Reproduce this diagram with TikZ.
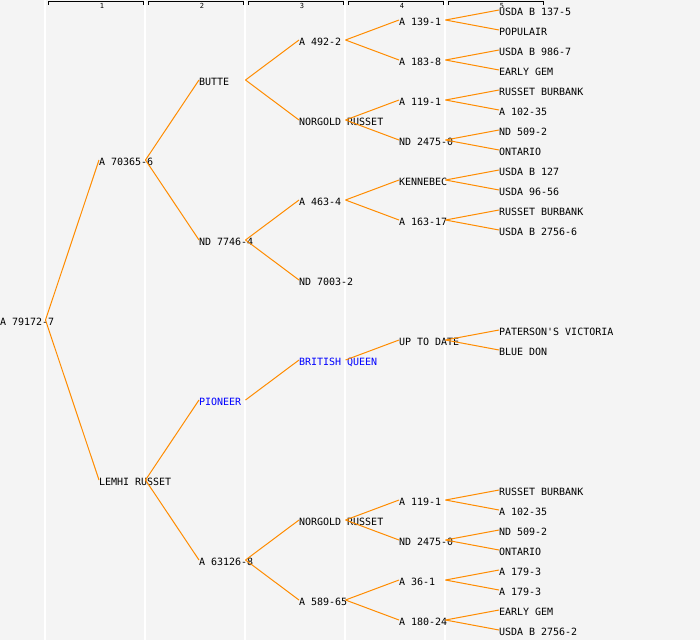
\documentclass[tikz,border=0pt]{standalone}
\usepackage{fontspec}
\setmonofont{DejaVu Sans Mono}
\definecolor{bgc}{HTML}{F4F4F4}
\definecolor{conncol}{RGB}{255,140,0}
\definecolor{bluetxt}{RGB}{0,0,255}
\begin{document}
\begin{tikzpicture}[x=1pt,y=-1pt,
  lbl/.style={anchor=west,inner sep=0pt,outer sep=0pt,font=\ttfamily\fontsize{10}{10}\selectfont,text height=7.3pt,text depth=0pt,text=black},
  bl/.style={lbl,text=bluetxt},
  conn/.style={draw=conncol,line width=1pt},
  colline/.style={draw=white,line width=1.3pt},
  brk/.style={draw=black,line width=0.9pt},
  hdr/.style={inner sep=0pt,font=\ttfamily\fontsize{7}{7}\selectfont}]
\fill[bgc] (0,0) rectangle (700,640);
\useasboundingbox (0,0) rectangle (700,640);
% column lines
\foreach \x in {45,145,245,345,445} \draw[colline] (\x,0) -- (\x,640);
% header brackets
\foreach \k in {1,...,5} {
  \draw[brk] ({48+100*(\k-1)},4.5) -- ({48+100*(\k-1)},1.5) -- ({143+100*(\k-1)},1.5) -- ({143+100*(\k-1)},4.5);
  \node[hdr] (h\k) at ({102+100*(\k-1)},6) {\k};
}
% column 0
\node[lbl] (r) at (0,322) {A 79172-7};
% column 1
\node[lbl] (a) at (99,162) {A 70365-6};
\node[lbl] (b) at (99,482) {LEMHI RUSSET};
% column 2
\node[lbl] (a1) at (199,82) {BUTTE};
\node[lbl] (a2) at (199,242) {ND 7746-4};
\node[bl] (b1) at (199,402) {PIONEER};
\node[lbl] (b2) at (199,562) {A 63126-8};
% column 3
\node[lbl] (a11) at (299,42) {A 492-2};
\node[lbl] (a12) at (299,122) {NORGOLD RUSSET};
\node[lbl] (a21) at (299,202) {A 463-4};
\node[lbl] (a22) at (299,282) {ND 7003-2};
\node[bl] (b11) at (299,362) {BRITISH QUEEN};
\node[lbl] (b21) at (299,522) {NORGOLD RUSSET};
\node[lbl] (b22) at (299,602) {A 589-65};
% column 4
\node[lbl] (a111) at (399,22) {A 139-1};
\node[lbl] (a112) at (399,62) {A 183-8};
\node[lbl] (a121) at (399,102) {A 119-1};
\node[lbl] (a122) at (399,142) {ND 2475-0};
\node[lbl] (a211) at (399,182) {KENNEBEC};
\node[lbl] (a212) at (399,222) {A 163-17};
\node[lbl] (b111) at (399,342) {UP TO DATE};
\node[lbl] (b211) at (399,502) {A 119-1};
\node[lbl] (b212) at (399,542) {ND 2475-0};
\node[lbl] (b221) at (399,582) {A 36-1};
\node[lbl] (b222) at (399,622) {A 180-24};
% column 5
\node[lbl] (l1) at (499,12) {USDA B 137-5};
\node[lbl] (l2) at (499,32) {POPULAIR};
\node[lbl] (l3) at (499,52) {USDA B 986-7};
\node[lbl] (l4) at (499,72) {EARLY GEM};
\node[lbl] (l5) at (499,92) {RUSSET BURBANK};
\node[lbl] (l6) at (499,112) {A 102-35};
\node[lbl] (l7) at (499,132) {ND 509-2};
\node[lbl] (l8) at (499,152) {ONTARIO};
\node[lbl] (l9) at (499,172) {USDA B 127};
\node[lbl] (l10) at (499,192) {USDA 96-56};
\node[lbl] (l11) at (499,212) {RUSSET BURBANK};
\node[lbl] (l12) at (499,232) {USDA B 2756-6};
\node[lbl] (l13) at (499,332) {PATERSON'S VICTORIA};
\node[lbl] (l14) at (499,352) {BLUE DON};
\node[lbl] (l15) at (499,492) {RUSSET BURBANK};
\node[lbl] (l16) at (499,512) {A 102-35};
\node[lbl] (l17) at (499,532) {ND 509-2};
\node[lbl] (l18) at (499,552) {ONTARIO};
\node[lbl] (l19) at (499,572) {A 179-3};
\node[lbl] (l20) at (499,592) {A 179-3};
\node[lbl] (l21) at (499,612) {EARLY GEM};
\node[lbl] (l22) at (499,632) {USDA B 2756-2};
% outgoing points of parents
\coordinate (r-o) at (45.5,320);
\coordinate (a-o) at (145.5,160);
\coordinate (b-o) at (145.5,480);
\coordinate (a1-o) at (245.5,80);
\coordinate (a2-o) at (245.5,240);
\coordinate (b1-o) at (245.5,400);
\coordinate (b2-o) at (245.5,560);
\coordinate (a11-o) at (345.5,40);
\coordinate (a12-o) at (345.5,120);
\coordinate (a21-o) at (345.5,200);
\coordinate (b11-o) at (345.5,360);
\coordinate (b21-o) at (345.5,520);
\coordinate (b22-o) at (345.5,600);
\coordinate (a111-o) at (445.5,20);
\coordinate (a112-o) at (445.5,60);
\coordinate (a121-o) at (445.5,100);
\coordinate (a122-o) at (445.5,140);
\coordinate (a211-o) at (445.5,180);
\coordinate (a212-o) at (445.5,220);
\coordinate (b111-o) at (445.5,340);
\coordinate (b211-o) at (445.5,500);
\coordinate (b212-o) at (445.5,540);
\coordinate (b221-o) at (445.5,580);
\coordinate (b222-o) at (445.5,620);
% connectors
\foreach \p/\c in {r/a,r/b,a/a1,a/a2,b/b1,b/b2,
  a1/a11,a1/a12,a2/a21,a2/a22,b1/b11,b2/b21,b2/b22,
  a11/a111,a11/a112,a12/a121,a12/a122,a21/a211,a21/a212,b11/b111,
  b21/b211,b21/b212,b22/b221,b22/b222,
  a111/l1,a111/l2,a112/l3,a112/l4,a121/l5,a121/l6,a122/l7,a122/l8,
  a211/l9,a211/l10,a212/l11,a212/l12,b111/l13,b111/l14,
  b211/l15,b211/l16,b212/l17,b212/l18,b221/l19,b221/l20,b222/l21,b222/l22}
  \draw[conn] (\p-o) -- ([yshift=2pt]\c.west);
\end{tikzpicture}
\end{document}
